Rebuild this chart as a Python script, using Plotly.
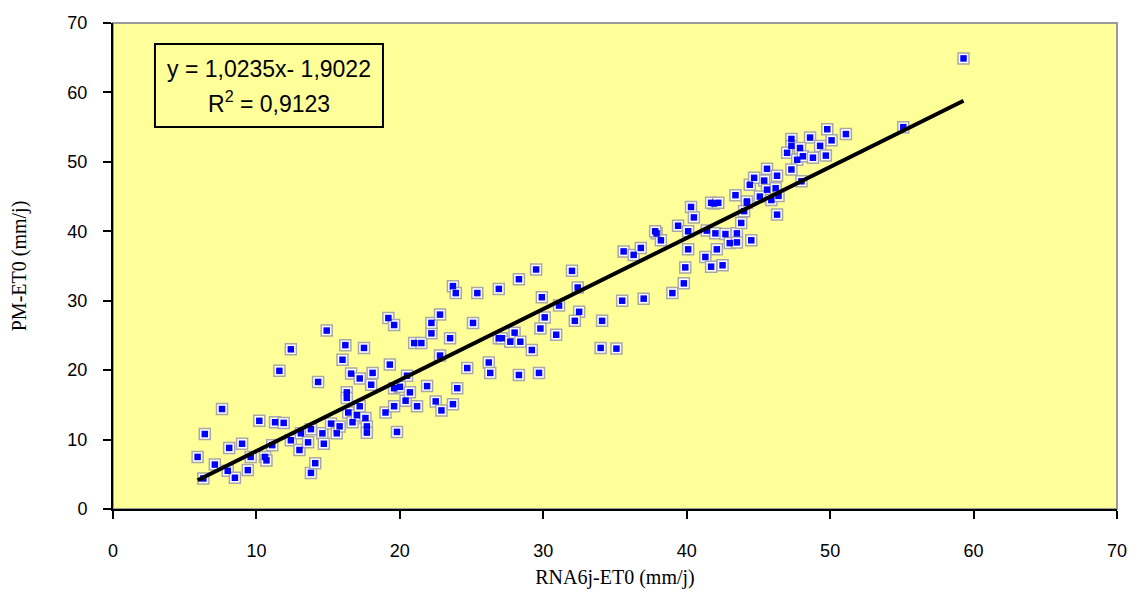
import plotly.graph_objects as go

# RNA6j-ET0 (x) vs PM-ET0 (y), mm/j
rna_et0 = [
    5.9, 6.4, 6.3, 7.1, 7.6, 8.1, 8.0, 8.5, 9.0, 9.4,
    9.6, 10.2, 10.6, 10.7, 11.1, 11.3, 11.9, 11.6, 12.4, 12.4,
    13.0, 13.1, 13.6, 13.8, 13.8, 14.1, 14.3, 14.6, 14.7, 14.9,
    15.2, 15.6, 15.8, 16.0, 16.2, 16.3, 16.3, 16.4, 16.6, 16.7,
    17.0, 17.2, 17.5, 17.2, 17.6, 17.7, 17.7, 18.0, 18.1, 19.0,
    19.2, 19.6, 19.3, 19.6, 19.8, 19.6, 20.0, 20.4, 20.7, 20.5,
    21.0, 21.5, 21.2, 21.9, 22.2, 22.2, 22.8, 22.8, 22.5, 22.9,
    23.5, 23.7, 23.7, 23.9, 24.0, 24.7, 25.1, 25.4, 26.2, 26.3,
    26.9, 26.9, 28.3, 29.5, 32.0, 32.4, 29.9, 31.1, 30.1, 32.5,
    32.2, 34.1, 29.8, 30.9, 27.1, 27.7, 28.0, 28.4, 29.2, 28.3,
    29.7, 34.0, 35.1, 35.5, 37.0, 39.0, 39.8, 39.9, 41.3, 41.7,
    42.5, 40.1, 42.1, 35.6, 36.3, 36.8, 37.9, 38.2, 39.4, 40.1,
    40.3, 40.5, 41.9, 41.4, 42.0, 42.7, 43.5, 43.0, 43.5, 43.8,
    44.2, 59.3, 55.1, 49.8, 51.1, 50.1, 48.6, 47.3, 47.3, 47.9,
    49.3, 47.0, 47.7, 48.1, 48.8, 49.7, 47.3, 48.0, 45.6, 46.3,
    45.4, 44.4, 44.7, 45.6, 46.2, 43.4, 44.2, 45.1, 45.9, 46.4,
    46.3, 41.7, 42.2, 44.0, 37.8, 44.5,
]
pm_et0 = [
    7.5, 10.8, 4.4, 6.4, 14.4, 8.8, 5.5, 4.5, 9.4, 5.6,
    7.5, 12.7, 7.5, 7.0, 9.2, 12.5, 12.4, 19.9, 23.0, 9.9,
    8.5, 10.9, 9.6, 11.5, 5.2, 6.6, 18.3, 10.9, 9.4, 25.7,
    12.3, 10.9, 11.9, 21.5, 23.6, 16.8, 16.0, 13.9, 19.5, 12.5,
    13.5, 18.8, 23.2, 14.8, 13.1, 11.9, 11.0, 17.9, 19.6, 13.9,
    27.5, 26.5, 20.8, 14.8, 11.1, 17.4, 17.6, 15.6, 16.8, 19.2,
    23.9, 23.9, 14.8, 17.7, 25.3, 26.8, 28.0, 22.1, 15.5, 14.2,
    24.6, 15.1, 32.1, 31.1, 17.4, 20.3, 26.8, 31.1, 21.1, 19.6,
    31.7, 24.6, 33.1, 34.5, 34.3, 31.9, 30.5, 29.3, 27.6, 28.4,
    27.1, 27.1, 26.0, 25.1, 24.6, 24.1, 25.4, 24.1, 22.9, 19.3,
    19.6, 23.2, 23.1, 30.0, 30.3, 31.1, 32.5, 34.8, 36.3, 34.9,
    35.1, 37.4, 37.4, 37.1, 36.6, 37.6, 39.7, 38.7, 40.8, 40.0,
    43.5, 42.0, 44.0, 40.1, 39.7, 39.6, 39.7, 38.3, 38.4, 41.2,
    44.1, 64.9, 55.0, 54.7, 54.0, 53.1, 53.5, 53.3, 52.3, 52.0,
    52.3, 51.3, 50.3, 50.8, 50.6, 50.9, 48.9, 47.2, 49.0, 48.0,
    47.3, 46.7, 47.7, 46.0, 46.2, 45.2, 44.3, 45.0, 44.5, 45.1,
    42.4, 44.1, 44.1, 42.9, 40.0, 38.7,
]

# Excel linear trendline coefficients shown in the chart
slope, intercept = 1.0235, -1.9022
r2 = 0.9123
trend_x = [min(rna_et0), max(rna_et0)]
trend_y = [slope * v + intercept for v in trend_x]

fig = go.Figure()

# grey/white halo behind each marker, then the blue square
fig.add_trace(go.Scatter(
    x=rna_et0, y=pm_et0, mode="markers", hoverinfo="skip",
    marker=dict(symbol="square", size=11, color="white",
                line=dict(color="#a8a8a8", width=1.5)),
    showlegend=False,
))
fig.add_trace(go.Scatter(
    x=rna_et0, y=pm_et0, mode="markers", name="PM-ET0",
    marker=dict(symbol="square", size=6.5, color="#0000ff"),
    showlegend=False,
))
fig.add_trace(go.Scatter(
    x=trend_x, y=trend_y, mode="lines", name="Linéaire",
    line=dict(color="black", width=4), showlegend=False,
))

# grey frame around the plot area (top / right edges)
fig.add_shape(type="rect", xref="paper", yref="paper", x0=0, x1=1, y0=0, y1=1,
              line=dict(color="#9a9a9a", width=2), layer="below")

# equation box
fig.add_shape(type="rect", xref="paper", yref="paper",
              x0=0.0418, x1=0.2689, y0=0.786, y1=0.9568,
              line=dict(color="black", width=2), fillcolor="#ffff99")
eq_font = dict(family="Liberation Sans, Arial", size=23, color="black")
eq_text = f"y = {slope:.4f}x- {abs(intercept):.4f}".replace(".", ",")
r2_text = f"R<sup>2</sup> = {r2:.4f}".replace(".", ",")
fig.add_annotation(xref="paper", yref="paper", x=0.1554, y=0.905,
                   xanchor="center", yanchor="middle",
                   text=eq_text, showarrow=False, font=eq_font)
fig.add_annotation(xref="paper", yref="paper", x=0.1554, y=0.8374,
                   xanchor="center", yanchor="middle",
                   text=r2_text, showarrow=False, font=eq_font)

axis_font = dict(family="Liberation Sans, Arial", size=18, color="black")
title_font = dict(family="Liberation Serif, Times New Roman", size=20, color="black")

# the page body has an 8px margin, so the figure is shrunk by that amount
fig.update_layout(
    width=1135, height=593,
    margin=dict(l=105, r=26, t=15, b=92),
    paper_bgcolor="white", plot_bgcolor="#ffff99",
    xaxis=dict(
        range=[0, 70], dtick=10, showgrid=False, zeroline=False,
        showline=True, linecolor="black", linewidth=2,
        ticks="outside", ticklen=8, tickwidth=2, tickcolor="black",
        tickfont=axis_font, ticklabelstandoff=16, automargin=False,
        title=dict(text="RNA6j-ET0 (mm/j)", font=title_font, standoff=10),
    ),
    yaxis=dict(
        range=[0, 70], dtick=10, showgrid=False, zeroline=False,
        showline=True, linecolor="black", linewidth=2,
        ticks="outside", ticklen=8, tickwidth=2, tickcolor="black",
        tickfont=axis_font, ticklabelstandoff=12, automargin=False,
        title=dict(text="PM-ET0 (mm/j)", font=title_font, standoff=40),
    ),
)

fig.write_html("out.html")
